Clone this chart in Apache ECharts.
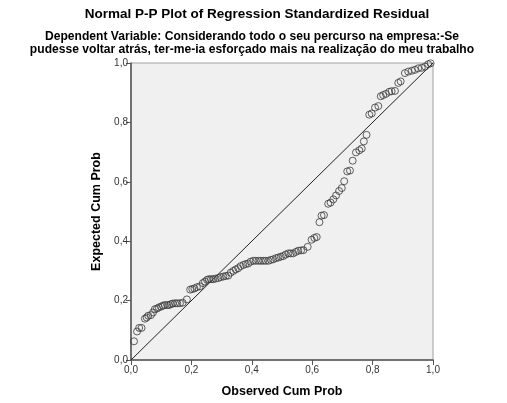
<!DOCTYPE html>
<html>
<head>
<meta charset="utf-8">
<script src="https://cdn.jsdelivr.net/npm/echarts@6/dist/echarts.min.js"></script>
<style>html,body{margin:0;padding:0;background:#fff;}#c{width:507px;height:403px;}</style>
</head>
<body>
<div id="c"></div>
<script>
const titleText = 'Normal P-P Plot of Regression Standardized Residual';
const subtitleLines = ['Dependent Variable: Considerando todo o seu percurso na empresa:-Se', 'pudesse voltar atrás, ter-me-ia esforçado mais na realização do meu trabalho'];
const xAxisName = 'Observed Cum Prob';
const yAxisName = 'Expected Cum Prob';
const tickValues = [0, 0.2, 0.4, 0.6, 0.8, 1.0];
const refLine = [[0, 0], [1, 1]];
const observedCum = [0.010,0.020,0.027,0.035,0.046,0.052,0.057,0.066,0.073,0.079,0.086,0.092,0.100,0.106,0.112,0.120,0.126,0.132,0.138,0.146,0.153,0.162,0.171,0.185,0.196,0.203,0.210,0.218,0.228,0.238,0.245,0.252,0.258,0.265,0.272,0.280,0.289,0.297,0.306,0.314,0.322,0.330,0.339,0.347,0.355,0.363,0.372,0.380,0.388,0.396,0.405,0.413,0.422,0.430,0.438,0.446,0.455,0.463,0.471,0.480,0.488,0.496,0.504,0.512,0.521,0.529,0.537,0.546,0.554,0.563,0.571,0.585,0.598,0.607,0.615,0.624,0.631,0.639,0.653,0.661,0.670,0.679,0.689,0.698,0.706,0.716,0.725,0.734,0.745,0.756,0.764,0.771,0.780,0.789,0.797,0.808,0.819,0.827,0.835,0.844,0.855,0.863,0.874,0.885,0.893,0.907,0.918,0.930,0.940,0.951,0.963,0.974,0.984,0.992];
const expectedCum = [0.063,0.096,0.108,0.108,0.139,0.143,0.149,0.151,0.160,0.171,0.173,0.177,0.180,0.183,0.185,0.185,0.185,0.188,0.190,0.191,0.191,0.191,0.193,0.204,0.237,0.239,0.241,0.245,0.248,0.259,0.264,0.270,0.272,0.272,0.272,0.274,0.276,0.279,0.281,0.283,0.284,0.294,0.300,0.305,0.309,0.316,0.320,0.323,0.325,0.331,0.334,0.334,0.334,0.334,0.334,0.334,0.334,0.337,0.339,0.343,0.345,0.348,0.350,0.355,0.359,0.359,0.359,0.364,0.368,0.369,0.370,0.381,0.405,0.411,0.414,0.464,0.486,0.488,0.526,0.530,0.541,0.554,0.569,0.579,0.602,0.635,0.638,0.671,0.699,0.706,0.712,0.736,0.758,0.826,0.830,0.850,0.855,0.888,0.892,0.896,0.903,0.905,0.906,0.933,0.938,0.966,0.971,0.974,0.977,0.982,0.984,0.988,0.996,0.999];

const points = observedCum.map((x, i) => [x, expectedCum[i]]);
const fmt = v => v.toFixed(1).replace('.', ',');
const font = 'Liberation Sans, Arial, sans-serif';
const headStyle = {fontFamily: font, fontSize: 13.5, fontWeight: 'bold', fill: '#000', textAlign: 'center', textVerticalAlign: 'middle'};
const subStyle = Object.assign({}, headStyle, {fontSize: 12.1});

const chart = echarts.init(document.getElementById('c'), null, {renderer: 'canvas'});
chart.setOption({
  animation: false,
  backgroundColor: '#ffffff',
  graphic: [
    {type: 'text', x: 257, y: 14, style: Object.assign({text: titleText}, headStyle)},
    {type: 'text', x: 252, y: 37, style: Object.assign({text: subtitleLines[0]}, subStyle)},
    {type: 'text', x: 252, y: 50, style: Object.assign({text: subtitleLines[1]}, subStyle)}
  ],
  grid: {left: 131, top: 63, width: 302, height: 302, show: true, backgroundColor: '#f0f0f0', borderColor: '#a0a0a0', borderWidth: 1},
  xAxis: {
    type: 'value', min: 0, max: 1, interval: 0.2,
    name: xAxisName, nameLocation: 'middle', nameGap: 25,
    nameTextStyle: {fontFamily: font, fontSize: 12.5, fontWeight: 'bold', color: '#000'},
    axisLine: {show: true, onZero: false, lineStyle: {color: '#555', width: 1.5}},
    axisTick: {show: true, inside: false, length: 5, lineStyle: {color: '#555'}},
    axisLabel: {formatter: fmt, fontFamily: font, fontSize: 10, color: '#333', margin: 5},
    splitLine: {show: false}
  },
  yAxis: {
    type: 'value', min: 0, max: 1, interval: 0.2,
    name: yAxisName, nameLocation: 'middle', nameGap: 21, nameRotate: 90,
    nameTextStyle: {fontFamily: font, fontSize: 12.5, fontWeight: 'bold', color: '#000'},
    axisLine: {show: true, onZero: false, lineStyle: {color: '#555', width: 1.5}},
    axisTick: {show: true, inside: false, length: 5, lineStyle: {color: '#555'}},
    axisLabel: {formatter: fmt, fontFamily: font, fontSize: 10, color: '#333', margin: 3},
    splitLine: {show: false}
  },
  series: [
    {type: 'line', data: refLine, symbol: 'none', lineStyle: {color: '#222', width: 1}, silent: true, z: 1},
    {type: 'scatter', data: points, symbol: 'circle', symbolSize: 7,
     itemStyle: {color: 'rgba(0,0,0,0)', borderColor: '#3a3a3a', borderWidth: 1}, z: 2}
  ]
});
</script>
</body>
</html>
